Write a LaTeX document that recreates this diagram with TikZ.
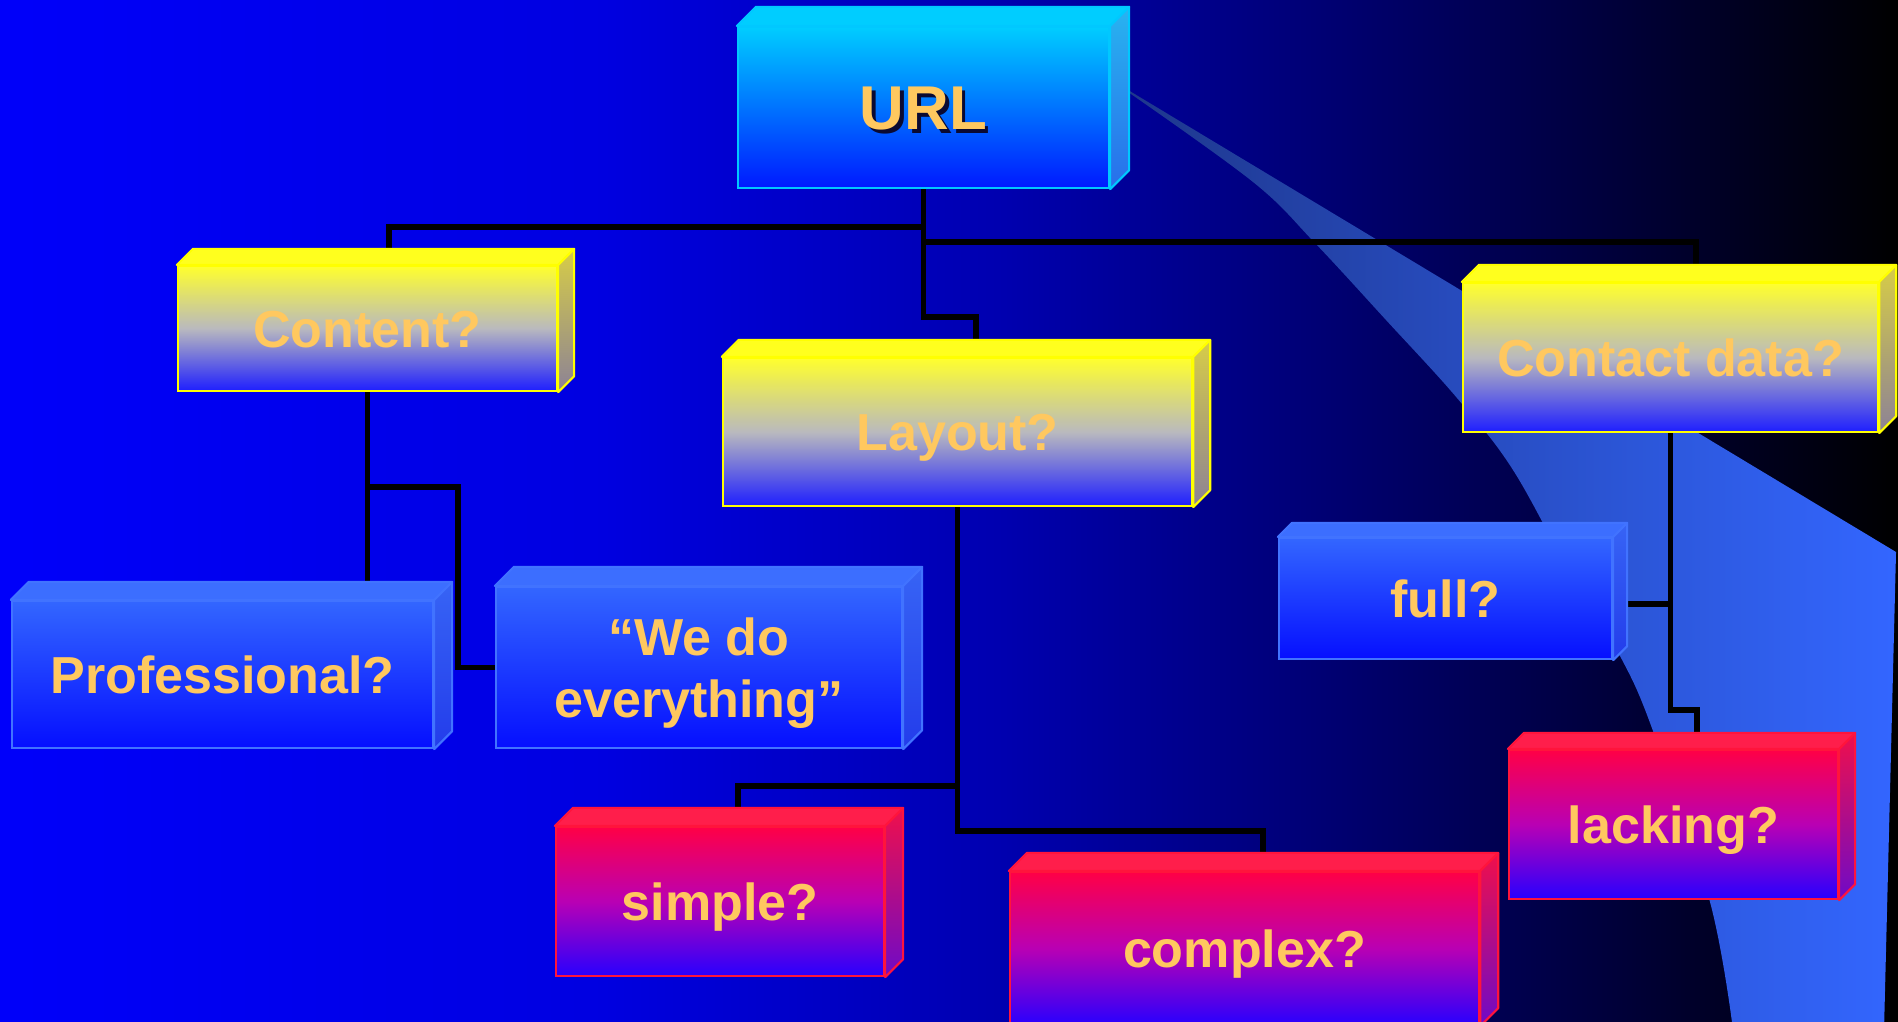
\documentclass[tikz,border=0pt]{standalone}
\usepackage{fontspec}
\setmainfont{Liberation Sans}
\usetikzlibrary{calc}

% palette
\definecolor{labeltxt}{RGB}{255,200,95}
\definecolor{rootshadow}{RGB}{10,10,50}
\definecolor{cytop}{RGB}{0,205,255}
\definecolor{cybot}{RGB}{0,25,255}
\definecolor{cyedge}{RGB}{0,200,255}
\definecolor{cyface}{RGB}{0,205,255}
\definecolor{cysidetop}{RGB}{40,180,240}
\definecolor{cysidebot}{RGB}{40,110,235}
\definecolor{yltop}{RGB}{255,255,45}
\definecolor{ylmid}{RGB}{185,185,190}
\definecolor{ylbot}{RGB}{30,30,255}
\definecolor{yledge}{RGB}{255,255,0}
\definecolor{ylface}{RGB}{255,255,30}
\definecolor{ylsidetop}{RGB}{215,205,70}
\definecolor{ylsidebot}{RGB}{140,130,150}
\definecolor{bltop}{RGB}{51,102,255}
\definecolor{blbot}{RGB}{5,15,255}
\definecolor{bledge}{RGB}{65,115,255}
\definecolor{blface}{RGB}{60,110,255}
\definecolor{blsidetop}{RGB}{55,100,245}
\definecolor{blsidebot}{RGB}{35,60,235}
\definecolor{rdtop}{RGB}{255,0,70}
\definecolor{rdmid}{RGB}{185,0,180}
\definecolor{rdbot}{RGB}{40,0,255}
\definecolor{rdedge}{RGB}{255,20,60}
\definecolor{rdface}{RGB}{255,30,75}
\definecolor{rdsidetop}{RGB}{240,15,75}
\definecolor{rdsidebot}{RGB}{110,10,200}
\definecolor{bandleft}{RGB}{30,55,140}
\definecolor{bandright}{RGB}{51,102,255}

% backdrop: bright blue on the left fading to black on the right
\pgfdeclarehorizontalshading{bgfade}{100bp}{%
  rgb(0bp)=(0,0,.98); rgb(25bp)=(0,0,.98); rgb(40.8bp)=(0,0,.88);
  rgb(51.3bp)=(0,0,.69); rgb(59.2bp)=(0,0,.47); rgb(67.1bp)=(0,0,.24);
  rgb(75bp)=(0,0,0); rgb(100bp)=(0,0,0)}

\pgfdeclarelayer{backdrop}
\pgfdeclarelayer{wires}
\pgfsetlayers{backdrop,wires,main}

\newcommand\boxlabelfont{\bfseries\fontsize{14.8pt}{17.6pt}\selectfont}
\newcommand\rootlabelfont{\bfseries\fontsize{17.6pt}{21pt}\selectfont}
\newcommand\castshadow[1]{\makebox[0pt][l]{\kern0.35mm\raisebox{-0.35mm}{\textcolor{rootshadow}{#1}}}#1}

% top and right faces of a block, drawn against the front face node #1
\newcommand\cubefaces[3]{%
  \filldraw[fill=#3face, draw=#3edge, line width=0.6pt, line join=round]
    (#1.north west) -- ++(#2,-#2) -- ($(#1.north east)+(#2,-#2)$) -- (#1.north east) -- cycle;
  \shadedraw[top color=#3sidetop, bottom color=#3sidebot, draw=#3edge, line width=0.6pt, line join=round]
    (#1.north east) -- ++(#2,-#2) -- ($(#1.south east)+(#2,-#2)$) -- (#1.south east) -- cycle;
}

\tikzset{
  block/.style={rectangle, inner sep=0pt, line width=0.6pt, text=labeltxt,
    font=\boxlabelfont, text height=3.7mm, text depth=0pt},
  cyanblock/.style={block, draw=cyedge, top color=cytop, bottom color=cybot,
    font=\rootlabelfont, text height=4.45mm},
  yellowblock/.style={block, draw=yledge, top color=yltop, bottom color=ylbot, middle color=ylmid},
  blueblock/.style={block, draw=bledge, top color=bltop, bottom color=blbot},
  redblock/.style={block, draw=rdedge, top color=rdtop, bottom color=rdbot, middle color=rdmid},
  wire/.style={draw=black, line width=1.45pt, line cap=rect, line join=miter},
}

\begin{document}
\begin{tikzpicture}[x=0.01cm, y=-0.01cm]
\useasboundingbox (0,0) rectangle (1898,1021);
\clip (0,0) rectangle (1898,1021);

\begin{pgfonlayer}{backdrop}
\clip (0,0) rectangle (1898,1021);
% backdrop
\shade[shading=bgfade] (0,0) rectangle (1898,1021);
% light band sweeping down to the right
\shade[left color=bandleft, right color=bandright]
  (1128,90) -- (1896,552) -- (1884,1030) -- (1733,1030)
  -- plot[smooth, tension=0.6] coordinates {(1733,1030) (1710,902) (1653,731) (1620,656)
     (1574,581) (1513,470) (1457,398) (1386,320) (1314,242) (1253,182) (1128,92)}
  -- cycle;
\end{pgfonlayer}

% front faces
\node[cyanblock,   minimum width=37.1mm, minimum height=16.1mm] (url)     at (923.5,107.5) {\castshadow{URL}};
\node[yellowblock, minimum width=37.9mm, minimum height=12.5mm] (content) at (367.5,328.5) {Content?};
\node[yellowblock, minimum width=46.9mm, minimum height=14.8mm] (layout)  at (957.5,432)   {Layout?};
\node[yellowblock, minimum width=41.5mm, minimum height=14.9mm] (contact) at (1670.5,357.5) {Contact data?};
\node[blueblock,   minimum width=42.1mm, minimum height=14.7mm] (prof)    at (222.5,674.5) {Professional?};
\node[blueblock,   minimum width=40.6mm, minimum height=16.1mm, align=center,
      text height=9.9mm, text depth=0pt] (wedo) at (699,667.5) {“We do\\everything”};
\node[redblock,    minimum width=32.8mm, minimum height=14.9mm] (simple)  at (720,901.5)   {simple?};
\node[redblock,    minimum width=46.9mm, minimum height=15.3mm] (complex) at (1244.5,948.5) {complex?};
\node[blueblock,   minimum width=33.3mm, minimum height=12.1mm] (full)    at (1445.5,598.5) {full?};
\node[redblock,    minimum width=32.9mm, minimum height=14.9mm] (lacking) at (1673.5,824.5) {lacking?};

% depth faces
\cubefaces{url}{19}{cy}
\cubefaces{content}{16}{yl}
\cubefaces{layout}{17}{yl}
\cubefaces{contact}{17}{yl}
\cubefaces{prof}{18}{bl}
\cubefaces{wedo}{19}{bl}
\cubefaces{simple}{18}{rd}
\cubefaces{complex}{18}{rd}
\cubefaces{full}{14}{bl}
\cubefaces{lacking}{16}{rd}

% bends of the connectors
\coordinate (kc) at (389,227);
\coordinate (kk) at (1696,242);
\coordinate (kl) at (976,317);
\coordinate (kw) at (458,487);
\coordinate (ks) at (738,786);
\coordinate (kx) at (1263,831);
\coordinate (kf) at (1670,604);
\coordinate (kg) at (1697,710);

% connectors, laid under the blocks
\begin{pgfonlayer}{wires}
\clip (0,0) rectangle (1898,1021);
\draw[wire] (url.south) |- (kc) -- (kc |- content.north);
\draw[wire] (url.south |- kk) -- (kk) -- (kk |- contact.north);
\draw[wire] (url.south) |- (kl) -- (kl |- layout.north);
\draw[wire] (content.south) -- (content.south |- prof.north);
\draw[wire] (content.south |- kw) -- (kw) |- (wedo.west);
\draw[wire] (layout.south) |- (kx) -- (kx |- complex.north);
\draw[wire] (layout.south |- ks) -- (ks) -- (ks |- simple.north);
\draw[wire] (contact.south |- kf) -- (full.east |- kf);
\draw[wire] (contact.south) |- (kg) -- (kg |- lacking.north);
\end{pgfonlayer}
\end{tikzpicture}
\end{document}
